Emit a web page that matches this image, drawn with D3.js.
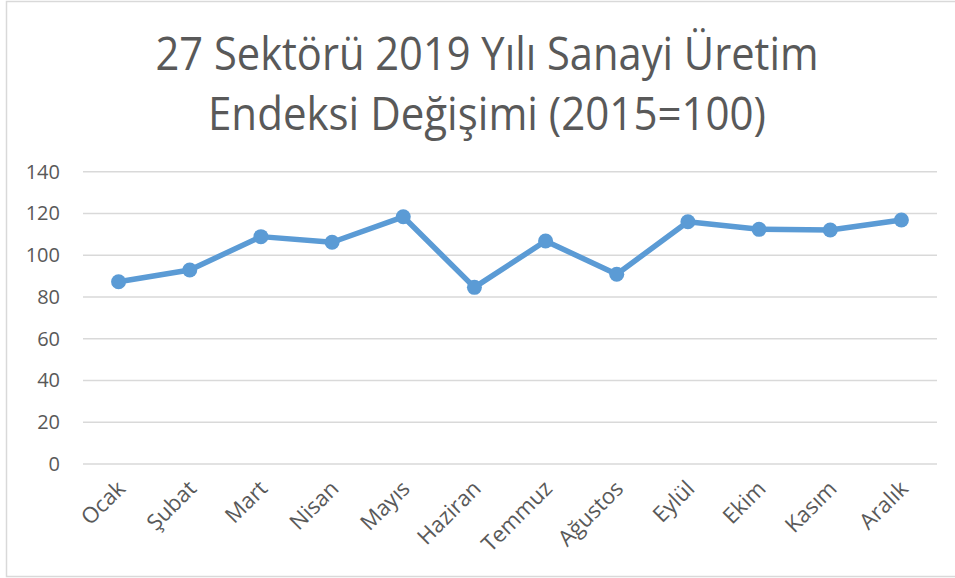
<!DOCTYPE html>
<html>
<head>
<meta charset="utf-8">
<script src="https://cdn.jsdelivr.net/npm/d3@7"></script>
<style>
  body { margin: 0; background: #fff; }
  svg text { font-family: "Open Sans", sans-serif; fill: #595959; }
</style>
</head>
<body>
<svg id="chart" width="955" height="578"></svg>
<script>
//// data
var months = ["Ocak", "Şubat", "Mart", "Nisan", "Mayıs", "Haziran",
              "Temmuz", "Ağustos", "Eylül", "Ekim", "Kasım", "Aralık"];
var values = [87.3, 92.9, 108.9, 106.2, 118.4, 84.6,
              106.8, 90.9, 116.0, 112.4, 112.1, 116.9];
var yTicks = [0, 20, 40, 60, 80, 100, 120, 140];
var titleLines = ["27 Sektörü 2019 Yılı Sanayi Üretim", "Endeksi Değişimi (2015=100)"];

//// define parameters
var svg = d3.select("svg#chart");
var plot = {left: 83, right: 937, top: 171.7, bottom: 464};

// outer frame
svg.append("rect")
   .attr("x", 6.5).attr("y", 1.5)
   .attr("width", 960).attr("height", 575)
   .attr("fill", "none")
   .attr("stroke", "#d9d9d9")
   .attr("stroke-width", 1.5);

// title
var titleY = [70, 130], titleW = [663, 558];
svg.selectAll("text.title")
   .data(titleLines)
   .enter().append("text")
   .attr("class", "title")
   .attr("x", 487)
   .attr("y", function(d, i) { return titleY[i]; })
   .attr("text-anchor", "middle")
   .attr("textLength", function(d, i) { return titleW[i]; })
   .attr("lengthAdjust", "spacingAndGlyphs")
   .style("font-size", "46px")
   .text(function(d) { return d; });

// scales
var x = d3.scaleBand().domain(months).range([plot.left, plot.right]);
var y = d3.scaleLinear().domain([0, 140]).range([plot.bottom, plot.top]);

// gridlines
svg.append("g")
   .selectAll("line")
   .data(yTicks)
   .enter().append("line")
   .attr("x1", plot.left).attr("x2", plot.right)
   .attr("y1", function(d) { return y(d); })
   .attr("y2", function(d) { return y(d); })
   .attr("stroke", "#d9d9d9")
   .attr("stroke-width", 1.5);

// y axis labels
var yAxis = svg.append("g")
   .attr("transform", "translate(" + (plot.left - 23) + ",0)")
   .call(d3.axisLeft(y).tickValues(yTicks).tickSize(0).tickPadding(0));
yAxis.select(".domain").remove();
yAxis.attr("font-family", null).attr("font-size", null);
yAxis.selectAll("text")
   .attr("fill", null)
   .style("font-size", "20px");

// x axis labels
var xAxis = svg.append("g")
   .attr("transform", "translate(0," + plot.bottom + ")")
   .call(d3.axisBottom(x).tickSize(0).tickPadding(0));
xAxis.select(".domain").remove();
xAxis.attr("font-family", null).attr("font-size", null);
xAxis.selectAll("text")
   .attr("fill", null)
   .attr("y", 0).attr("dy", null)
   .attr("text-anchor", "end")
   .attr("transform", "translate(8,26) rotate(-45)")
   .style("font-size", "22px");

// line
var line = d3.line()
   .x(function(d, i) { return x(months[i]) + x.bandwidth() / 2; })
   .y(function(d) { return y(d); });

svg.append("path")
   .datum(values)
   .attr("d", line)
   .attr("fill", "none")
   .attr("stroke", "#5b9bd5")
   .attr("stroke-width", 5.5)
   .attr("stroke-linejoin", "round");

svg.selectAll("circle.pt")
   .data(values)
   .enter().append("circle")
   .attr("class", "pt")
   .attr("cx", function(d, i) { return x(months[i]) + x.bandwidth() / 2; })
   .attr("cy", function(d) { return y(d); })
   .attr("r", 7.5)
   .attr("fill", "#5b9bd5");
</script>
</body>
</html>
